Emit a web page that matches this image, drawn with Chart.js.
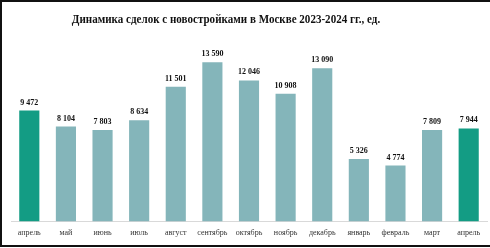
<!DOCTYPE html>
<html>
<head>
<meta charset="utf-8">
<script src="https://cdn.jsdelivr.net/npm/chart.js@4.4.1/dist/chart.umd.min.js"></script>
<style>
  body { margin: 0; background: #fff; }
  #wrap { position: relative; width: 490px; height: 248px; }
  #frame { position: absolute; left: 0; top: 0; width: 488px; height: 243px; border-left: 2px solid #111; border-top: 2px solid #111; border-bottom: 2px solid #111; pointer-events: none; }
  #title { position: absolute; left: 0; top: 11px; width: 452px; text-align: center; font: bold 13px "Liberation Serif", serif; color: #111; transform: scaleX(0.85); transform-origin: 226px 0; white-space: nowrap; }
</style>
</head>
<body>
<div id="wrap">
  <canvas id="chart" width="490" height="248"></canvas>
  <div id="title">Динамика сделок с новостройками в Москве 2023-2024 гг., ед.</div>
  <div id="frame"></div>
</div>
<script>
const months = ['апрель', 'май', 'июнь', 'июль', 'август', 'сентябрь', 'октябрь', 'ноябрь', 'декабрь', 'январь', 'февраль', 'март', 'апрель'];
const deals = [9472, 8104, 7803, 8634, 11501, 13590, 12046, 10908, 13090, 5326, 4774, 7809, 7944];
const highlighted = [0, 12];

const baseColor = '#84b5ba';
const highColor = '#139c84';
const barColors = deals.map((v, i) => (highlighted.includes(i) ? highColor : baseColor));

// value labels above bars, "9 472" style
const valueLabels = {
  id: 'valueLabels',
  afterDatasetsDraw(chart) {
    const ctx = chart.ctx;
    const meta = chart.getDatasetMeta(0);
    ctx.save();
    ctx.font = 'bold 8px "Liberation Serif", serif';
    ctx.fillStyle = '#111';
    ctx.textAlign = 'center';
    ctx.textBaseline = 'bottom';
    meta.data.forEach((bar, i) => {
      const txt = String(deals[i]).replace(/\B(?=(\d{3})+(?!\d))/g, ' ');
      ctx.fillText(txt, bar.x, bar.y - 4);
    });
    ctx.restore();
  }
};

new Chart(document.getElementById('chart'), {
  type: 'bar',
  data: {
    labels: months,
    datasets: [{
      data: deals,
      backgroundColor: barColors,
      barPercentage: 0.55,
      categoryPercentage: 1
    }]
  },
  options: {
    responsive: false,
    animation: false,
    layout: { padding: { left: 11, right: 3, top: 40, bottom: 3 } },
    plugins: { legend: { display: false }, tooltip: { enabled: false } },
    scales: {
      x: {
        grid: { display: false, drawTicks: false },
        border: { color: '#d9d9d9' },
        ticks: { padding: 7, color: '#333', font: { family: 'Liberation Serif', size: 8 } }
      },
      y: { display: false, min: 0, max: 15500 }
    }
  },
  plugins: [valueLabels]
});
</script>
</body>
</html>
